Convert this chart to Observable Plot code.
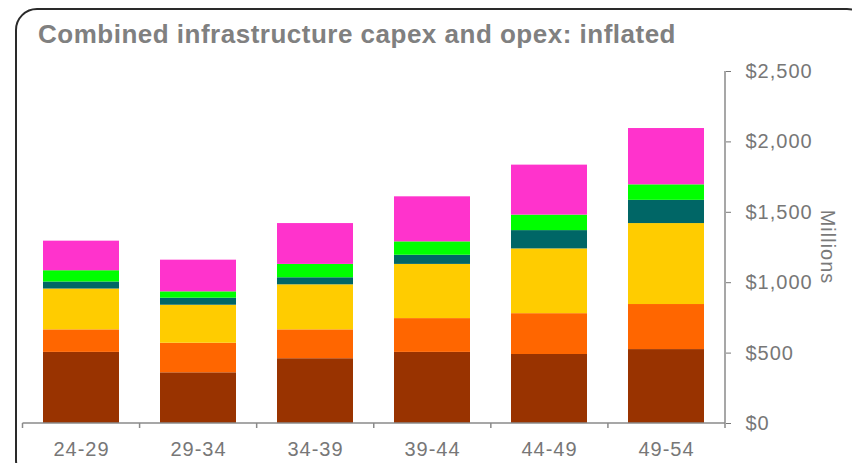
<!DOCTYPE html>
<html>
<head>
<meta charset="utf-8">
<script src="https://cdn.jsdelivr.net/npm/d3@7"></script>
<script src="https://cdn.jsdelivr.net/npm/@observablehq/plot@0.6"></script>
<style>
  html, body { margin: 0; padding: 0; background: #fff; overflow: hidden; }
  #wrap { position: relative; width: 852px; height: 463px; overflow: hidden; }
  #frame {
    position: absolute; left: 15px; top: 8px; width: 850px; height: 470px;
    border: 2px solid #2a2a2a; border-radius: 22px; pointer-events: none;
  }
  #title {
    height: 56px; box-sizing: border-box; padding: 21px 0 0 38px;
    font: bold 26px/26px "Liberation Sans", Arial, sans-serif;
    letter-spacing: 0.5px; color: #808080; white-space: nowrap;
  }
</style>
</head>
<body>
<div id="wrap">
  <div id="title">Combined infrastructure capex and opex: inflated</div>
  <div id="chart"></div>
  <div id="frame"></div>
</div>
<script>
// Five-year periods along the x axis
const periods = ["24-29", "29-34", "34-39", "39-44", "44-49", "49-54"];

// Cost components, stacked bottom to top ($ millions)
const seriesNames = ["Component 1", "Component 2", "Component 3", "Component 4", "Component 5", "Component 6"];
const component1 = [505, 360, 460, 505, 490, 525];
const component2 = [160, 210, 205, 240, 290, 320];
const component3 = [290, 270, 320, 385, 460, 575];
const component4 = [50, 50, 50, 65, 130, 165];
const component5 = [80, 45, 95, 95, 110, 110];
const component6 = [210, 225, 290, 320, 355, 400];
const seriesColors = ["#993300", "#FF6600", "#FFCC00", "#006666", "#00FF00", "#FF33CC"];

// Axis ticks
const yTicks = [0, 500, 1000, 1500, 2000, 2500];

const seriesValues = [component1, component2, component3, component4, component5, component6];
const rows = [];
seriesNames.forEach((name, s) => {
  periods.forEach((p, i) => rows.push({period: p, series: name, value: seriesValues[s][i]}));
});

const axisColor = "#8a8a8a";

// Axis lines and boundary ticks between period bands
function axisLines(index, scales, values, dim) {
  const g = d3.create("svg:g").attr("stroke", axisColor).attr("stroke-width", 1.5).attr("fill", "none");
  const x0 = dim.marginLeft, x1 = dim.width - dim.marginRight;
  const y0 = dim.height - dim.marginBottom, yTop = dim.marginTop;
  g.append("line").attr("x1", x0).attr("x2", x1).attr("y1", y0).attr("y2", y0);
  g.append("line").attr("x1", x1).attr("x2", x1).attr("y1", yTop).attr("y2", y0);
  const step = (x1 - x0) / periods.length;
  for (let k = 0; k <= periods.length; k++) {
    const x = x0 + k * step;
    g.append("line").attr("x1", x).attr("x2", x).attr("y1", y0).attr("y2", y0 + 5);
  }
  g.append("text")
    .attr("transform", `translate(${x1 + 96},${(yTop + y0) / 2}) rotate(90)`)
    .attr("text-anchor", "middle")
    .attr("stroke", "none")
    .attr("fill", "#7a7a7a")
    .attr("font-size", 20)
    .attr("letter-spacing", "1px")
    .text("Millions");
  return g.node();
}

const chart = Plot.plot({
  width: 852,
  height: 407,
  marginTop: 15,
  marginBottom: 40,
  marginLeft: 22.5,
  marginRight: 127,
  style: {
    fontFamily: "'Liberation Sans', Arial, sans-serif",
    fontSize: "20px",
    letterSpacing: "1px",
    color: "#777",
    background: "transparent",
    overflow: "visible"
  },
  x: {
    domain: periods,
    paddingInner: 0.35,
    paddingOuter: 0.175,
    axis: "bottom",
    tickSize: 0,
    tickPadding: 18,
    label: null
  },
  y: {
    domain: [0, 2500],
    axis: "right",
    ticks: yTicks,
    tickSize: 5,
    tickPadding: 15,
    tickFormat: d => "$" + d3.format(",")(d),
    label: null
  },
  color: {domain: seriesNames, range: seriesColors},
  marks: [
    Plot.barY(rows, {x: "period", y: "value", fill: "series", order: seriesNames}),
    axisLines
  ]
});

document.getElementById("chart").appendChild(chart);
</script>
</body>
</html>
